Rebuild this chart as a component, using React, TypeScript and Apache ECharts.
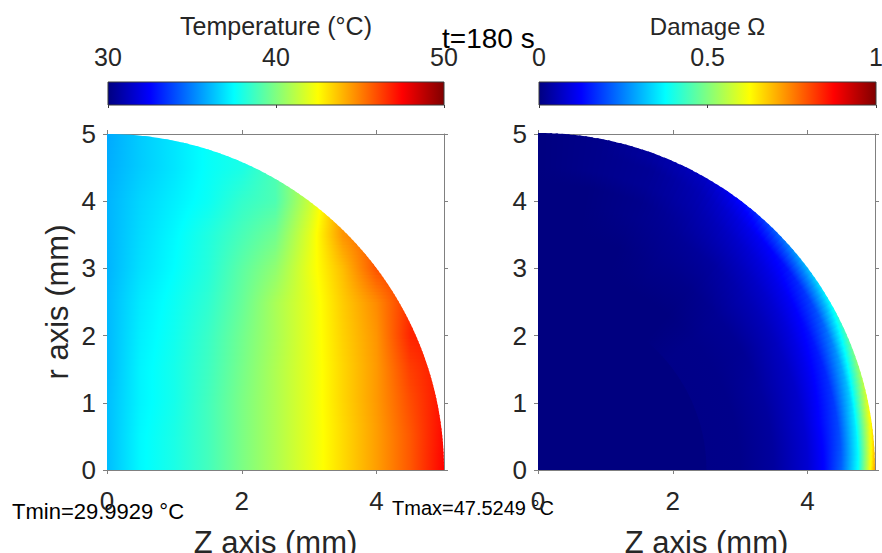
import React, { useEffect, useRef } from "react";
import * as echarts from "echarts";

// ---------- chart values ----------
const RADIUS = 5; // mm, quarter-disc domain
const X_TICKS = [0, 2, 4];
const Y_TICKS = [0, 1, 2, 3, 4, 5];
const TEMP_RANGE = [30, 50];
const TEMP_TICKS = [30, 40, 50];
const DAMAGE_RANGE = [0, 1];
const DAMAGE_TICKS = [0, 0.5, 1];
const TIME_S = 180;
const T_MIN = 29.9929;
const T_MAX = 47.5249;

// Temperature (°C) sampled at Z = 0, 0.5, 1, ... (mm) along rows of constant r
const T_Z_STEP = 0.5;
const T_ROW_R = [0, 0.5, 1, 1.5, 2, 2.5, 3, 3.5, 4, 4.5, 5];
const T_R00 = [36.2, 37.4, 38.0, 38.8, 39.9, 40.9, 42.0, 43.2, 44.4, 45.8, 47.5];
const T_R05 = [36.2, 37.4, 38.0, 38.8, 39.9, 40.9, 42.0, 43.2, 44.4, 45.8, 47.4];
const T_R10 = [36.2, 37.3, 37.9, 38.8, 39.9, 40.9, 42.0, 43.3, 44.5, 46.0, 47.3];
const T_R15 = [36.1, 37.3, 37.9, 38.7, 39.8, 40.9, 42.0, 43.3, 44.5, 46.3, 47.2];
const T_R20 = [36.1, 37.2, 37.8, 38.6, 39.7, 40.8, 42.0, 43.4, 44.6, 46.8];
const T_R25 = [36.1, 37.1, 37.7, 38.4, 39.5, 40.8, 42.0, 43.5, 44.8, 46.6];
const T_R30 = [36.0, 36.9, 37.5, 38.2, 39.3, 40.3, 42.1, 43.8, 45.9];
const T_R35 = [36.0, 36.8, 37.4, 38.1, 38.9, 39.7, 41.9, 44.6];
const T_R40 = [36.0, 36.7, 37.2, 37.7, 38.5, 39.0, 41.4];
const T_R45 = [35.9, 36.5, 37.0, 37.6, 38.0];
const T_R50 = [35.8];
const T_ROWS = [T_R00, T_R05, T_R10, T_R15, T_R20, T_R25, T_R30, T_R35, T_R40, T_R45, T_R50];

// Damage Ω sampled at radial distances rho (mm) along rays of constant angle (deg from Z axis)
const D_RHO = [0, 3, 3.5, 4, 4.25, 4.5, 4.75, 4.9, 5];
const D_ANGLES = [0, 10, 20, 30, 40, 50, 60, 70, 80, 90];
const D_A00 = [0, 0.01, 0.03, 0.08, 0.13, 0.22, 0.38, 0.58, 0.72];
const D_A10 = [0, 0.01, 0.03, 0.08, 0.13, 0.19, 0.35, 0.52, 0.63];
const D_A20 = [0, 0.01, 0.03, 0.07, 0.11, 0.16, 0.28, 0.41, 0.5];
const D_A30 = [0, 0.01, 0.02, 0.06, 0.09, 0.13, 0.2, 0.3, 0.38];
const D_A40 = [0, 0.01, 0.02, 0.05, 0.07, 0.1, 0.14, 0.22, 0.28];
const D_A50 = [0, 0, 0.01, 0.03, 0.05, 0.07, 0.1, 0.13, 0.16];
const D_A60 = [0, 0, 0.01, 0.02, 0.03, 0.04, 0.05, 0.06, 0.07];
const D_A70 = [0, 0, 0, 0.01, 0.01, 0.02, 0.02, 0.03, 0.03];
const D_A80 = [0, 0, 0, 0, 0, 0.01, 0.01, 0.01, 0.01];
const D_A90 = [0, 0, 0, 0, 0, 0, 0, 0, 0];
const D_ROWS = [D_A00, D_A10, D_A20, D_A30, D_A40, D_A50, D_A60, D_A70, D_A80, D_A90];

// MATLAB "jet" colormap, evenly spaced knots
const JET = ["#000080", "#0000ff", "#0080ff", "#00ffff", "#80ff80", "#ffff00", "#ff8000", "#ff0000", "#800000"];

// ---------- helpers ----------
const FONT = '"Liberation Sans", Arial, Helvetica, sans-serif';
const INK = "#262626";
const AXIS_GRAY = "#808080";

function hexRgb(h: string) {
  const n = parseInt(h.slice(1), 16);
  return [(n >> 16) & 255, (n >> 8) & 255, n & 255];
}
const JET_RGB = JET.map(hexRgb);
function jet(v: number) {
  const c = Math.max(0, Math.min(1, v)) * (JET_RGB.length - 1);
  const i = Math.min(JET_RGB.length - 2, Math.floor(c));
  const t = c - i;
  const a = JET_RGB[i];
  const b = JET_RGB[i + 1];
  return `rgb(${Math.round(a[0] + (b[0] - a[0]) * t)},${Math.round(a[1] + (b[1] - a[1]) * t)},${Math.round(a[2] + (b[2] - a[2]) * t)})`;
}
const clamp01 = (x: number) => Math.max(0, Math.min(1, x));

// colour stops along a coordinate (pos, value); extra stops at colormap knots keep the jet colours exact
function gradientStops(points: number[][], lo: number, hi: number, span: number) {
  const n = JET.length - 1;
  const out: { offset: number; color: string }[] = [];
  for (let k = 0; k < points.length; k++) {
    const [p, val] = points[k];
    const v = (val - lo) / (hi - lo);
    out.push({ offset: clamp01(p / span), color: jet(v) });
    if (k < points.length - 1) {
      const [p2, val2] = points[k + 1];
      const v2 = (val2 - lo) / (hi - lo);
      const fs: number[] = [];
      for (let q = 1; q < n; q++) {
        const kv = q / n;
        if ((kv - v) * (kv - v2) < 0) fs.push((kv - v) / (v2 - v));
      }
      fs.sort((a, b) => a - b).forEach((f) => {
        out.push({ offset: clamp01((p + f * (p2 - p)) / span), color: jet(v + f * (v2 - v)) });
      });
    }
  }
  return out;
}

const SUB = 10;

// shading of the temperature field: thin strips of constant r, each with a horizontal jet gradient
function renderTemperature(params: any, api: any) {
  const i = params.dataIndex;
  if (i >= T_ROW_R.length - 1) return null;
  const ra = T_ROW_R[i];
  const rb = T_ROW_R[i + 1];
  const A = T_ROWS[i];
  const B = T_ROWS[i + 1];
  const x0 = api.coord([0, 0])[0];
  const x5 = api.coord([RADIUS, 0])[0];
  const overlap = 0.02;
  const children: any[] = [];
  for (let s = 0; s < SUB; s++) {
    const r0 = ra + ((rb - ra) * s) / SUB;
    const r1raw = ra + ((rb - ra) * (s + 1)) / SUB;
    const r1 = Math.min(RADIUS, r1raw + overlap);
    const f = ((r0 + r1raw) / 2 - ra) / (rb - ra);
    const n = Math.max(A.length, B.length);
    const pts: number[][] = [];
    for (let k = 0; k < n; k++) {
      const a = A[k] ?? B[k];
      const b = B[k] ?? A[k];
      pts.push([k * T_Z_STEP, a + (b - a) * f]);
    }
    const stops = gradientStops(pts, TEMP_RANGE[0], TEMP_RANGE[1], RADIUS);
    const poly: number[][] = [api.coord([0, r0])];
    const ta = Math.asin(Math.min(r0 / RADIUS, 1));
    const tb = Math.asin(Math.min(r1 / RADIUS, 1));
    const NA = 8;
    for (let j = 0; j <= NA; j++) {
      const th = ta + ((tb - ta) * j) / NA;
      poly.push(api.coord([RADIUS * Math.cos(th), RADIUS * Math.sin(th)]));
    }
    poly.push(api.coord([0, r1]));
    children.push({
      type: "polygon",
      shape: { points: poly },
      style: { fill: { type: "linear", x: x0, y: 0, x2: x5, y2: 0, global: true, colorStops: stops } },
    });
  }
  return { type: "group", children };
}

// shading of the damage field: thin wedges, each with a radial jet gradient
function renderDamage(params: any, api: any) {
  const i = params.dataIndex;
  if (i >= D_ANGLES.length - 1) return null;
  const [cx, cy] = api.coord([0, 0]);
  const R = api.coord([RADIUS, 0])[0] - cx;
  const A = D_ROWS[i];
  const B = D_ROWS[i + 1];
  const a0 = D_ANGLES[i];
  const a1 = D_ANGLES[i + 1];
  const children: any[] = [];
  if (i === 0) {
    // solid under-layer in the colour of the undamaged core, hides wedge seams
    children.push({
      type: "sector",
      shape: { cx, cy, r0: 0, r: R * 0.7, startAngle: -Math.PI / 2, endAngle: 0, clockwise: true },
      style: { fill: jet((A[0] - DAMAGE_RANGE[0]) / (DAMAGE_RANGE[1] - DAMAGE_RANGE[0])) },
    });
  }
  for (let s = 0; s < SUB; s++) {
    const th0 = Math.max(0, a0 + ((a1 - a0) * s) / SUB - 0.4);
    const th1 = a0 + ((a1 - a0) * (s + 1)) / SUB;
    const f = (s + 0.5) / SUB;
    const pts = D_RHO.map((rho, k) => [rho, A[k] + (B[k] - A[k]) * f]);
    const stops = gradientStops(pts, DAMAGE_RANGE[0], DAMAGE_RANGE[1], RADIUS);
    children.push({
      type: "sector",
      shape: {
        cx,
        cy,
        r0: R * 0.5,
        r: R,
        startAngle: (-th1 * Math.PI) / 180,
        endAngle: (-th0 * Math.PI) / 180,
        clockwise: true,
      },
      style: { fill: { type: "radial", x: cx, y: cy, r: R, global: true, colorStops: stops } },
    });
  }
  return { type: "group", children };
}

function renderColorbar(params: any, api: any) {
  const lo = api.value(0);
  const hi = api.value(2);
  const p0 = api.coord([lo, 1]);
  const p1 = api.coord([hi, 0]);
  const stops = JET.map((c, k) => ({ offset: k / (JET.length - 1), color: c }));
  return {
    type: "rect",
    shape: { x: p0[0], y: p0[1], width: p1[0] - p0[0], height: p1[1] - p0[1] },
    style: {
      fill: { type: "linear", x: p0[0], y: 0, x2: p1[0], y2: 0, global: true, colorStops: stops },
      stroke: "#3a3a3a",
      lineWidth: 1,
    },
    z2: 1,
  };
}

// ---------- option ----------
function mainAxes(gridIndex: number, withYName: boolean) {
  const line = { show: true, onZero: false, lineStyle: { color: AXIS_GRAY, width: 1 } };
  const tick = (vals: number[]) => ({ show: true, inside: false, length: 4, customValues: vals, lineStyle: { color: AXIS_GRAY, width: 1 } });
  const xBottom: any = {
    type: "value", gridIndex, min: 0, max: RADIUS, position: "bottom",
    axisLine: line, axisTick: tick(X_TICKS), splitLine: { show: false },
    axisLabel: { customValues: X_TICKS, fontSize: 26, color: INK, fontFamily: FONT, margin: 18 },
    name: "Z axis (mm)", nameLocation: "middle", nameGap: 57,
    nameTextStyle: { fontSize: 31, color: INK, fontFamily: FONT },
  };
  const xTop: any = {
    type: "value", gridIndex, min: 0, max: RADIUS, position: "top",
    axisLine: line, axisTick: tick(X_TICKS), splitLine: { show: false }, axisLabel: { show: false },
  };
  const yLeft: any = {
    type: "value", gridIndex, min: 0, max: RADIUS, position: "left",
    axisLine: line, axisTick: tick(Y_TICKS), splitLine: { show: false },
    axisLabel: { customValues: Y_TICKS, fontSize: 26, color: INK, fontFamily: FONT, margin: 11 },
  };
  if (withYName) {
    yLeft.name = "r axis (mm)";
    yLeft.nameLocation = "middle";
    yLeft.nameGap = 34;
    yLeft.nameTextStyle = { fontSize: 31, color: INK, fontFamily: FONT };
  }
  const yRight: any = {
    type: "value", gridIndex, min: 0, max: RADIUS, position: "right",
    axisLine: line, axisTick: tick(Y_TICKS), splitLine: { show: false }, axisLabel: { show: false },
  };
  return { x: [xBottom, xTop], y: [yLeft, yRight] };
}

function colorbarAxes(gridIndex: number, range: number[], ticks: number[], title: string, titleSize: number) {
  const x: any = {
    type: "value", gridIndex, min: range[0], max: range[1], position: "top",
    axisLine: { show: false },
    axisTick: { show: true, inside: true, length: 3, customValues: ticks, lineStyle: { color: "#3a3a3a" } },
    splitLine: { show: false },
    axisLabel: { customValues: ticks, fontSize: 25, color: INK, fontFamily: FONT, margin: 13 },
    name: title, nameLocation: "middle", nameGap: 44,
    nameTextStyle: { fontSize: titleSize, color: INK, fontFamily: FONT },
  };
  const y: any = { type: "value", gridIndex, min: 0, max: 1, show: false };
  return { x, y };
}

function buildOption() {
  const L = mainAxes(0, true);
  const Rr = mainAxes(1, false);
  const CL = colorbarAxes(2, TEMP_RANGE, TEMP_TICKS, "Temperature (°C)", 25);
  const CR = colorbarAxes(3, DAMAGE_RANGE, DAMAGE_TICKS, "Damage Ω", 24);
  const g = (left: number, top: number, width: number, height: number) => ({
    left, top, width, height, containLabel: false, outerBoundsMode: "none",
  });
  return {
    animation: false,
    backgroundColor: "#ffffff",
    textStyle: { fontFamily: FONT },
    grid: [g(107, 134, 337, 336), g(538, 134, 337, 336), g(108, 82, 336, 23), g(539, 82, 337, 23)],
    xAxis: [L.x[0], L.x[1], Rr.x[0], Rr.x[1], CL.x, CR.x],
    yAxis: [L.y[0], L.y[1], Rr.y[0], Rr.y[1], CL.y, CR.y],
    series: [
      {
        type: "custom", name: "Temperature", xAxisIndex: 0, yAxisIndex: 0, silent: true,
        data: T_ROW_R.map((r) => [0, r]), renderItem: renderTemperature,
      },
      {
        type: "custom", name: "Damage", xAxisIndex: 2, yAxisIndex: 2, silent: true,
        data: D_ANGLES.map((a) => [0, 0, a]), renderItem: renderDamage,
      },
      {
        type: "custom", name: "Temperature colorbar", xAxisIndex: 4, yAxisIndex: 4, silent: true,
        data: [[TEMP_RANGE[0], 0, TEMP_RANGE[1], 1]], renderItem: renderColorbar,
      },
      {
        type: "custom", name: "Damage colorbar", xAxisIndex: 5, yAxisIndex: 5, silent: true,
        data: [[DAMAGE_RANGE[0], 0, DAMAGE_RANGE[1], 1]], renderItem: renderColorbar,
      },
    ],
    graphic: [
      {
        type: "text", x: 442, y: 38,
        style: { text: `t=${TIME_S} s`, fontSize: 28, fontFamily: FONT, fill: "#000", align: "left", verticalAlign: "middle" },
      },
      {
        type: "text", x: 12, y: 511,
        style: { text: `Tmin=${T_MIN} °C`, fontSize: 22, fontFamily: FONT, fill: "#000", align: "left", verticalAlign: "middle" },
      },
      {
        type: "text", x: 392, y: 508,
        style: { text: `Tmax=${T_MAX} °C`, fontSize: 20, fontFamily: FONT, fill: "#000", align: "left", verticalAlign: "middle" },
      },
    ],
  };
}

export default function App() {
  const ref = useRef<HTMLDivElement>(null);
  useEffect(() => {
    if (!ref.current) return;
    const chart = echarts.init(ref.current, undefined, { renderer: "svg" });
    chart.setOption(buildOption() as any);
    return () => chart.dispose();
  }, []);
  return (
    <div
      ref={ref}
      style={{ position: "absolute", left: 0, top: 0, width: 882, height: 553, background: "#fff" }}
    />
  );
}
